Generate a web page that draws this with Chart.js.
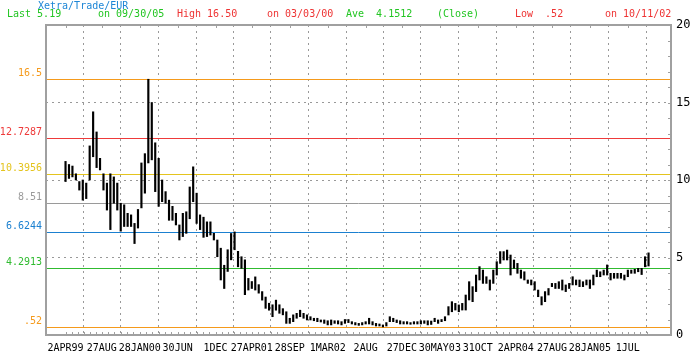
<!DOCTYPE html>
<html>
<head>
<meta charset="utf-8">
<script src="https://cdn.jsdelivr.net/npm/chart.js@4/dist/chart.umd.min.js"></script>
<style>
  body { margin: 0; background: #fff; }
  #wrap { width: 694px; height: 356px; }
</style>
</head>
<body>
<div id="wrap"><canvas id="price-chart"></canvas></div>
<script>
// biweekly high/low ranges, first bar on 2APR99
const lows = [
  9.9, 10.1, 10.2, 10.0, 9.35, 8.7, 8.8, 10.0, 11.5, 10.8,
  10.65, 9.35, 8.06, 6.8, 8.5, 8.06, 6.7, 7.0, 7.0, 7.0,
  5.9, 6.9, 8.2, 9.15, 11.1, 11.3, 9.25, 8.3, 8.6, 8.5,
  7.4, 7.4, 7.1, 6.13, 6.35, 6.56, 7.5, 8.6, 7.2, 6.8,
  6.3, 6.35, 6.45, 6.13, 5.05, 3.55, 3.0, 4.1, 4.85, 5.5,
  4.4, 4.3, 2.6, 2.9, 3.0, 2.9, 2.7, 2.25, 1.72, 1.6,
  1.18, 1.6, 1.4, 1.3, 0.75, 0.75, 0.86, 1.08, 1.18, 1.08,
  0.97, 0.97, 0.92, 0.86, 0.84, 0.75, 0.65, 0.65, 0.75, 0.71,
  0.65, 0.75, 0.8, 0.71, 0.65, 0.62, 0.65, 0.71, 0.71, 0.65,
  0.58, 0.58, 0.52, 0.58, 0.86, 0.86, 0.8, 0.71, 0.71, 0.71,
  0.69, 0.71, 0.71, 0.71, 0.75, 0.65, 0.68, 0.86, 0.75, 0.86,
  0.92, 1.29, 1.5, 1.61, 1.5, 1.61, 1.61, 2.26, 2.15, 2.8,
  3.55, 3.33, 3.33, 2.9, 3.33, 3.87, 4.62, 4.84, 4.84, 3.87,
  4.3, 3.98, 3.66, 3.55, 3.33, 3.23, 2.9, 2.47, 1.94, 2.15,
  2.58, 3.12, 3.0, 3.0, 2.9, 2.8, 3.0, 3.23, 3.23, 3.12,
  3.12, 3.23, 3.0, 3.23, 3.76, 3.76, 3.87, 3.87, 3.55, 3.66,
  3.66, 3.66, 3.55, 3.76, 3.98, 3.98, 4.08, 3.9, 4.4, 4.45,
];
const highs = [
  11.2, 11.0, 10.9, 10.4, 9.9, 10.0, 9.8, 12.2, 14.4, 13.1,
  11.4, 10.4, 9.8, 10.4, 10.2, 9.8, 8.5, 8.4, 7.85, 7.75,
  7.2, 8.1, 11.1, 11.7, 16.5, 15.0, 12.4, 11.4, 10.0, 9.25,
  8.7, 8.3, 7.85, 7.1, 7.85, 7.95, 9.55, 10.85, 9.15, 7.75,
  7.6, 7.3, 7.3, 6.56, 6.13, 5.6, 4.5, 5.5, 6.55, 6.65,
  5.4, 5.05, 4.85, 3.65, 3.45, 3.75, 3.25, 2.8, 2.45, 2.05,
  1.95, 2.25, 1.95, 1.7, 1.5, 1.08, 1.3, 1.4, 1.6, 1.4,
  1.3, 1.18, 1.08, 1.08, 0.97, 0.97, 0.92, 0.97, 0.92, 0.92,
  0.86, 1.0, 1.0, 0.86, 0.8, 0.75, 0.8, 0.86, 1.08, 0.86,
  0.75, 0.71, 0.65, 0.8, 1.18, 1.08, 0.97, 0.92, 0.86, 0.86,
  0.8, 0.86, 0.86, 0.92, 0.92, 0.92, 0.9, 1.08, 0.97, 1.0,
  1.18, 1.83, 2.15, 2.04, 1.94, 2.04, 2.58, 3.44, 3.12, 3.87,
  4.41, 4.19, 3.76, 3.55, 4.19, 4.73, 5.38, 5.38, 5.48, 5.16,
  4.84, 4.62, 4.19, 4.08, 3.55, 3.55, 3.44, 2.9, 2.47, 2.8,
  3.0, 3.33, 3.33, 3.44, 3.55, 3.23, 3.33, 3.76, 3.55, 3.55,
  3.44, 3.55, 3.55, 3.87, 4.19, 4.08, 4.19, 4.52, 3.98, 3.98,
  3.98, 3.98, 3.87, 4.19, 4.19, 4.24, 4.3, 4.3, 5.05, 5.3,
];
const weeksPerBar = 2;

// x axis in weeks since 2APR99
const xTickWeeks = [0, 21, 43, 65, 87, 108, 130, 152, 174, 195, 217, 239, 261, 282, 304, 326];
const xTickLabels = ['2APR99', '27AUG', '28JAN00', '30JUN', '1DEC', '27APR01', '28SEP', '1MAR02',
  '2AUG', '27DEC', '30MAY03', '31OCT', '2APR04', '27AUG', '28JAN05', '1JUL'];
const lastWeek = 339.7; // 30SEP05

const levels = [16.5, 12.7287, 10.3956, 8.51, 6.6244, 4.2913, 0.52];
const levelLabels = ['16.5', '12.7287', '10.3956', '8.51', '6.6244', '4.2913', '.52'];
const levelColors = ['#f59a1b', '#ee3a3a', '#e4c41e', '#9a9a9a', '#1b80d0', '#30bb30', '#f59a1b'];

const GREEN = '#22c522';
const RED = '#ee3333';
const BLUE = '#1d86d6';
const header = [
  { text: 'Xetra/Trade/EUR', color: BLUE },
  { text: 'Last 5.19', color: GREEN },
  { text: 'on 09/30/05', color: GREEN },
  { text: 'High 16.50', color: RED },
  { text: 'on 03/03/00', color: RED },
  { text: 'Ave  4.1512', color: GREEN },
  { text: '(Close)', color: GREEN },
  { text: 'Low  .52', color: RED },
  { text: 'on 10/11/02', color: RED },
];

const MONO = 'DejaVu Sans Mono';
const FRAME = '#a0a0a0';

const decor = {
  id: 'decor',
  beforeDraw(chart) {
    const { ctx, width, height } = chart;
    ctx.save();
    ctx.fillStyle = '#fff';
    ctx.fillRect(0, 0, width, height);
    ctx.restore();
  },
  beforeDatasetsDraw(chart) {
    // horizontal level lines and their labels on the left
    const { ctx, chartArea: a, scales } = chart;
    ctx.save();
    ctx.lineWidth = 1;
    ctx.font = '10px "' + MONO + '"';
    ctx.textAlign = 'right';
    ctx.textBaseline = 'middle';
    levels.forEach((v, i) => {
      const py = Math.round(scales.y.getPixelForValue(v)) + 0.5;
      ctx.strokeStyle = levelColors[i];
      ctx.beginPath();
      ctx.moveTo(a.left, py);
      ctx.lineTo(a.right, py);
      ctx.stroke();
      ctx.fillStyle = levelColors[i];
      ctx.fillText(levelLabels[i], a.left - 4, py - 6);
    });
    ctx.restore();
  },
  afterDraw(chart) {
    const { ctx, chartArea: a, scales } = chart;
    const x = scales.x;
    const y = scales.y;
    ctx.save();
    ctx.strokeStyle = FRAME;
    ctx.lineWidth = 1;
    ctx.beginPath();
    // small ticks on the bottom axis, 6 per labelled interval
    const stops = xTickWeeks.concat([lastWeek]);
    for (let i = 0; i < stops.length - 1; i++) {
      const step = i < xTickWeeks.length - 1 ? (stops[i + 1] - stops[i]) / 6 : 21.7 / 6;
      for (let w = stops[i]; w < stops[i + 1] - 0.5; w += step) {
        const px = Math.round(x.getPixelForValue(w)) + 0.5;
        ctx.moveTo(px, a.bottom);
        ctx.lineTo(px, a.bottom - 3);
      }
    }
    // top ticks
    xTickWeeks.forEach((w) => {
      const px = Math.round(x.getPixelForValue(w)) + 0.5;
      ctx.moveTo(px, a.top);
      ctx.lineTo(px, a.top + 3);
    });
    // right ticks, one per unit
    for (let v = 1; v < 20; v++) {
      const py = Math.round(y.getPixelForValue(v)) + 0.5;
      ctx.moveTo(a.right, py);
      ctx.lineTo(a.right - 3, py);
    }
    ctx.stroke();

    ctx.lineWidth = 2;
    ctx.strokeRect(a.left, a.top, a.right - a.left, a.bottom - a.top);

    // header
    ctx.font = '10px "' + MONO + '"';
    ctx.textBaseline = 'middle';
    ctx.textAlign = 'left';
    const pos = [[38, 6], [7, 14], [98, 14], [177, 14], [267, 14], [346, 14], [437, 14], [515, 14], [605, 14]];
    header.forEach((h, i) => {
      ctx.fillStyle = h.color;
      ctx.fillText(h.text, pos[i][0], pos[i][1]);
    });
    ctx.restore();
  },
};

new Chart(document.getElementById('price-chart'), {
  type: 'bar',
  data: {
    datasets: [
      {
        data: lows.map((lo, i) => ({ x: i * weeksPerBar, y: [lo, highs[i]] })),
        backgroundColor: '#000',
        borderWidth: 0,
        barThickness: 1.5,
        xAxisID: 'x',
        yAxisID: 'y',
      },
    ],
  },
  options: {
    responsive: true,
    maintainAspectRatio: false,
    animation: false,
    layout: { padding: { top: 25, left: 46 } },
    plugins: {
      legend: { display: false },
      tooltip: { enabled: false },
    },
    scales: {
      x: {
        type: 'linear',
        min: 0,
        max: lastWeek,
        afterBuildTicks: (axis) => {
          axis.ticks = xTickWeeks.map((w) => ({ value: w }));
        },
        afterFit: (axis) => {
          axis.height = 21;
        },
        grid: {
          color: (ctx) => (ctx.index === 0 ? 'rgba(0,0,0,0)' : '#999'),
          drawTicks: false,
        },
        border: { display: false, dash: [2, 4] },
        ticks: {
          autoSkip: false,
          maxRotation: 0,
          padding: 7,
          color: '#000',
          font: { family: MONO, size: 10 },
          callback: (v, i) => xTickLabels[i],
        },
      },
      y: {
        position: 'right',
        min: 0,
        max: 20,
        afterFit: (axis) => {
          axis.width = 23;
        },
        grid: {
          color: (ctx) => (ctx.tick.value > 0 && ctx.tick.value < 20 ? '#999' : 'rgba(0,0,0,0)'),
          drawTicks: false,
        },
        border: { display: false, dash: [2, 4] },
        ticks: {
          stepSize: 5,
          padding: 5,
          color: '#000',
          font: { family: MONO, size: 12 },
        },
      },
    },
  },
  plugins: [decor],
});
</script>
</body>
</html>
